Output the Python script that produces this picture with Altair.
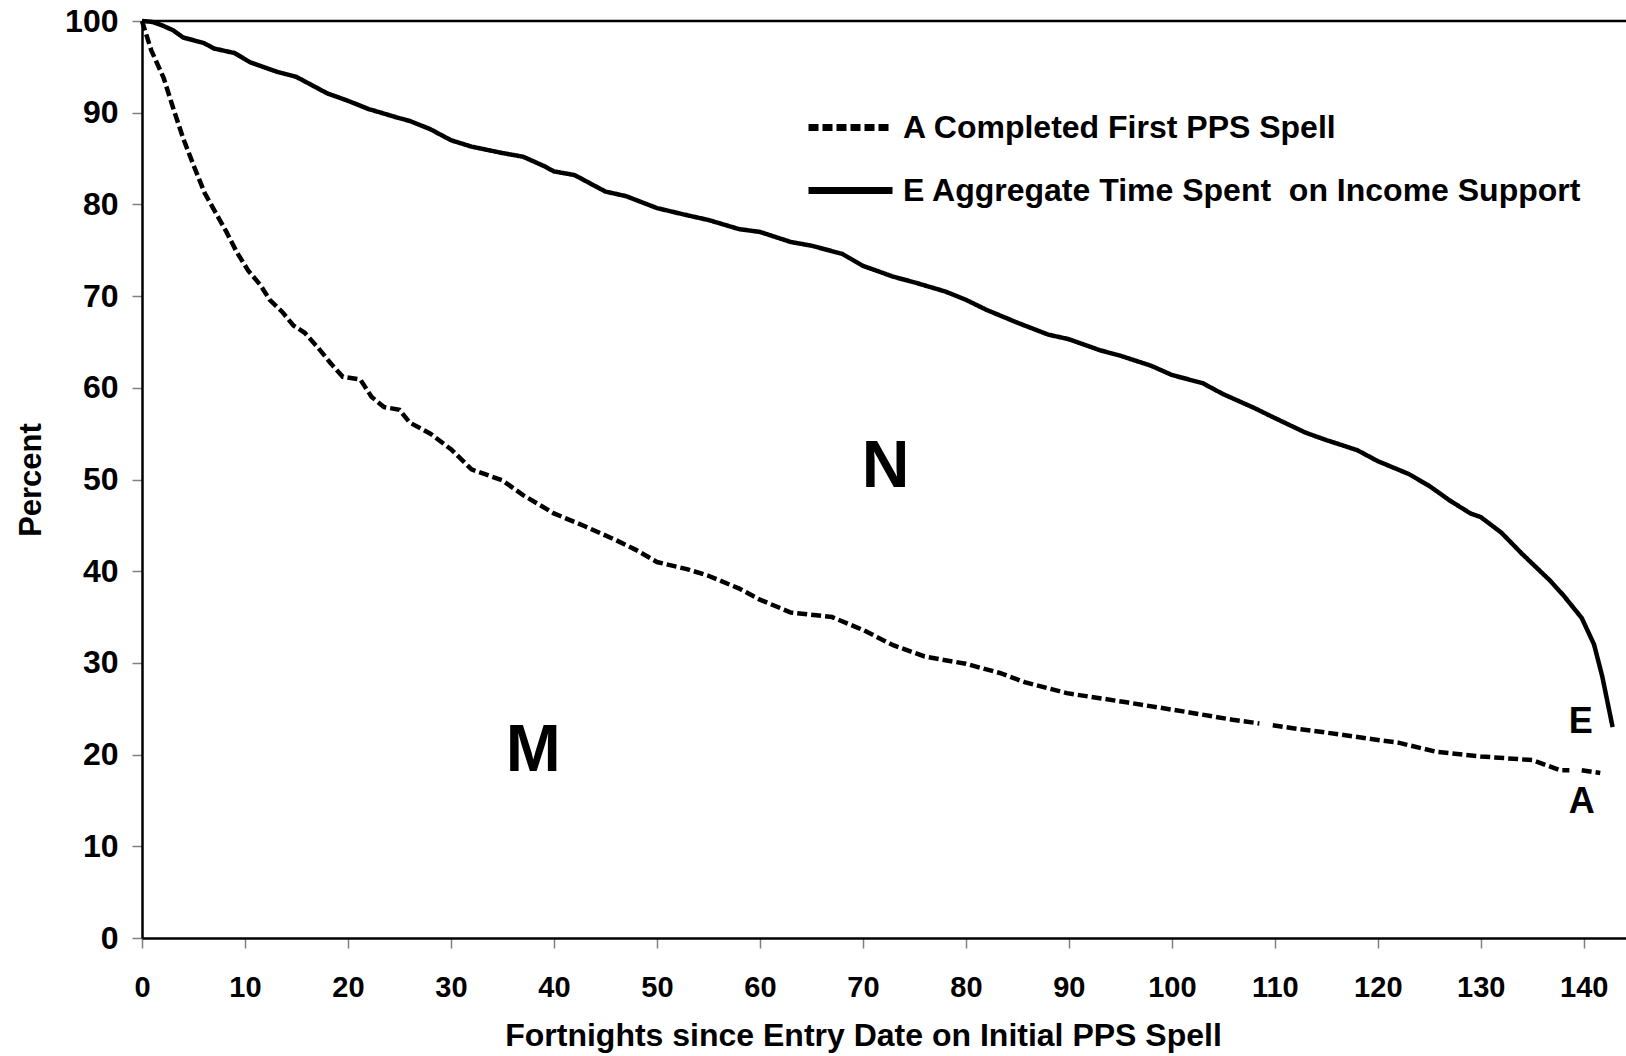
import altair as alt
import pandas as pd

LABEL_A = "A Completed First PPS Spell"
LABEL_E = "E Aggregate Time Spent\u00a0 on Income Support"

# Series E (solid): aggregate time spent on income support
e_x = [0, 1, 2, 3, 4, 6, 7, 9, 10.5, 13, 15, 18, 20, 22, 25, 26, 28, 30, 32, 35,
       37, 39, 40, 42, 45, 47, 50, 53, 55, 58, 60, 63, 65, 68, 70, 73, 75, 78, 80, 82,
       85, 88, 90, 93, 95, 98, 100, 103, 105, 108, 110, 113, 115, 118, 120, 123, 125,
       127, 129, 130, 132, 134, 136.7, 138, 139.8, 141, 141.8, 142.8]
e_y = [100, 99.9, 99.5, 99.0, 98.2, 97.6, 97.0, 96.5, 95.5, 94.5, 93.9, 92.1, 91.3,
       90.4, 89.4, 89.1, 88.2, 87.0, 86.3, 85.6, 85.2, 84.2, 83.6, 83.2, 81.4, 80.9,
       79.6, 78.8, 78.3, 77.3, 77.0, 75.9, 75.5, 74.6, 73.3, 72.1, 71.5, 70.5, 69.6,
       68.5, 67.1, 65.8, 65.3, 64.1, 63.5, 62.4, 61.4, 60.5, 59.3, 57.8, 56.7, 55.1,
       54.3, 53.2, 52.0, 50.6, 49.3, 47.7, 46.3, 45.9, 44.2, 41.9, 39.0, 37.4, 34.9,
       32.0, 28.5, 23.0]

# Series A (dashed): completed first PPS spell (None = break in the line)
a_x = [0, 0.9, 2.1, 3.0, 4.0, 5.1, 6.1, 7.2, 8.2, 9.2, 10.3, 11.5, 12.4, 13.6, 14.7,
       15.8, 17.0, 18.3, 19.5, 21.2, 22.3, 23.5, 25, 26, 28, 30, 32, 35, 37, 40, 43,
       46, 48, 50, 53, 55, 58, 60, 63, 67, 70, 73, 76, 80, 83.3, 85.7, 89.8, 95.6,
       101.7, 105.9, 108.5, 109.2, 109.8, 111.6, 115, 120, 122, 125.7, 130, 135,
       137.7, 138.6, 139.2, 139.8, 141.6]
a_y = [100, 96.8, 93.8, 90.6, 87.2, 84.0, 81.2, 79.0, 77.0, 74.8, 72.8, 71.2, 69.6,
       68.3, 66.8, 66.0, 64.5, 62.7, 61.2, 60.9, 59.0, 57.9, 57.6, 56.2, 55.0, 53.3,
       51.1, 49.9, 48.3, 46.3, 44.9, 43.4, 42.3, 41.0, 40.2, 39.5, 38.1, 36.9, 35.5,
       35.0, 33.6, 31.9, 30.7, 29.9, 28.9, 27.9, 26.7, 25.7, 24.6, 23.8, 23.4, None,
       23.2, 22.9, 22.4, 21.6, 21.3, 20.3, 19.8, 19.4, 18.3, 18.3, None, 18.3, 18.0]

# Region annotations
region_text = ["N", "M"]
region_x = [72.2, 38.0]
region_y = [51.4, 20.4]

end_text = ["E", "A"]
end_x = [139.7, 139.8]
end_y = [23.6, 14.8]

x_ticks = list(range(0, 150, 10))
y_ticks = list(range(0, 110, 10))

FONT = "Liberation Sans"

rows = []
for xv, yv in zip(e_x, e_y):
    rows.append({"series": LABEL_E, "seg": "E0", "x": xv, "y": yv})
seg = 0
for xv, yv in zip(a_x, a_y):
    if yv is None:
        seg += 1
        continue
    rows.append({"series": LABEL_A, "seg": f"A{seg}", "x": xv, "y": yv})
df = pd.DataFrame(rows)

xscale = alt.Scale(domain=[0, 144.1], nice=False, zero=False)
yscale = alt.Scale(domain=[0, 100], nice=False)

xaxis = alt.Axis(values=x_ticks, title="Fortnights since Entry Date on Initial PPS Spell",
                 grid=False, domainColor="black", domainWidth=2.5,
                 tickColor="#808080", tickWidth=1.5, tickSize=10,
                 labelFont=FONT, labelFontSize=29, labelFontWeight="bold",
                 labelColor="black", labelPadding=25, labelFlush=False,
                 titleFont=FONT, titleFontSize=32, titleFontWeight="bold",
                 titleColor="black", titlePadding=18, titleX=721)
yaxis = alt.Axis(values=y_ticks, title="Percent",
                 grid=False, domainColor="black", domainWidth=2.5,
                 tickColor="#808080", tickWidth=1.5, tickSize=10,
                 labelFont=FONT, labelFontSize=32, labelFontWeight="bold",
                 labelColor="black", labelPadding=14, labelFlush=False,
                 titleFont=FONT, titleFontSize=31, titleFontWeight="bold",
                 titleColor="black", titlePadding=17)

lines = alt.Chart(df).mark_line(color="black", strokeWidth=4.5).encode(
    x=alt.X("x:Q", scale=xscale, axis=xaxis),
    y=alt.Y("y:Q", scale=yscale, axis=yaxis),
    detail="seg:N",
    strokeDash=alt.StrokeDash(
        "series:N",
        scale=alt.Scale(domain=[LABEL_A, LABEL_E], range=[[10, 4], [1, 0]]),
        legend=alt.Legend(
            title=None, orient="none", legendX=684, legendY=82,
            symbolType="M-2,0H2", symbolSize=1764, symbolStrokeWidth=7,
            symbolStrokeColor="black",
            labelFont=FONT, labelFontSize=32, labelFontWeight="bold",
            labelColor="black", labelOffset=28, labelLimit=0,
            rowPadding=22, padding=0,
        ),
    ),
)

top_border = alt.Chart(pd.DataFrame({"y": [100]})).mark_rule(
    color="black", strokeWidth=2.5
).encode(y=alt.Y("y:Q", scale=yscale))

regions = alt.Chart(pd.DataFrame({"t": region_text, "x": region_x, "y": region_y})).mark_text(
    font=FONT, fontSize=66, fontWeight="bold", color="black", baseline="middle", align="center"
).encode(x=alt.X("x:Q", scale=xscale), y=alt.Y("y:Q", scale=yscale), text="t:N")

ends = alt.Chart(pd.DataFrame({"t": end_text, "x": end_x, "y": end_y})).mark_text(
    font=FONT, fontSize=36, fontWeight="bold", color="black", baseline="middle", align="center"
).encode(x=alt.X("x:Q", scale=xscale), y=alt.Y("y:Q", scale=yscale), text="t:N")

chart = alt.layer(lines, top_border, regions, ends).properties(
    width=1484, height=917,
    padding={"left": 142, "top": 21, "right": 0, "bottom": 118},
    autosize="none",
    background="white",
).configure_view(stroke=None)

chart.save("out.html", embed_options={"renderer": "svg", "actions": False})
